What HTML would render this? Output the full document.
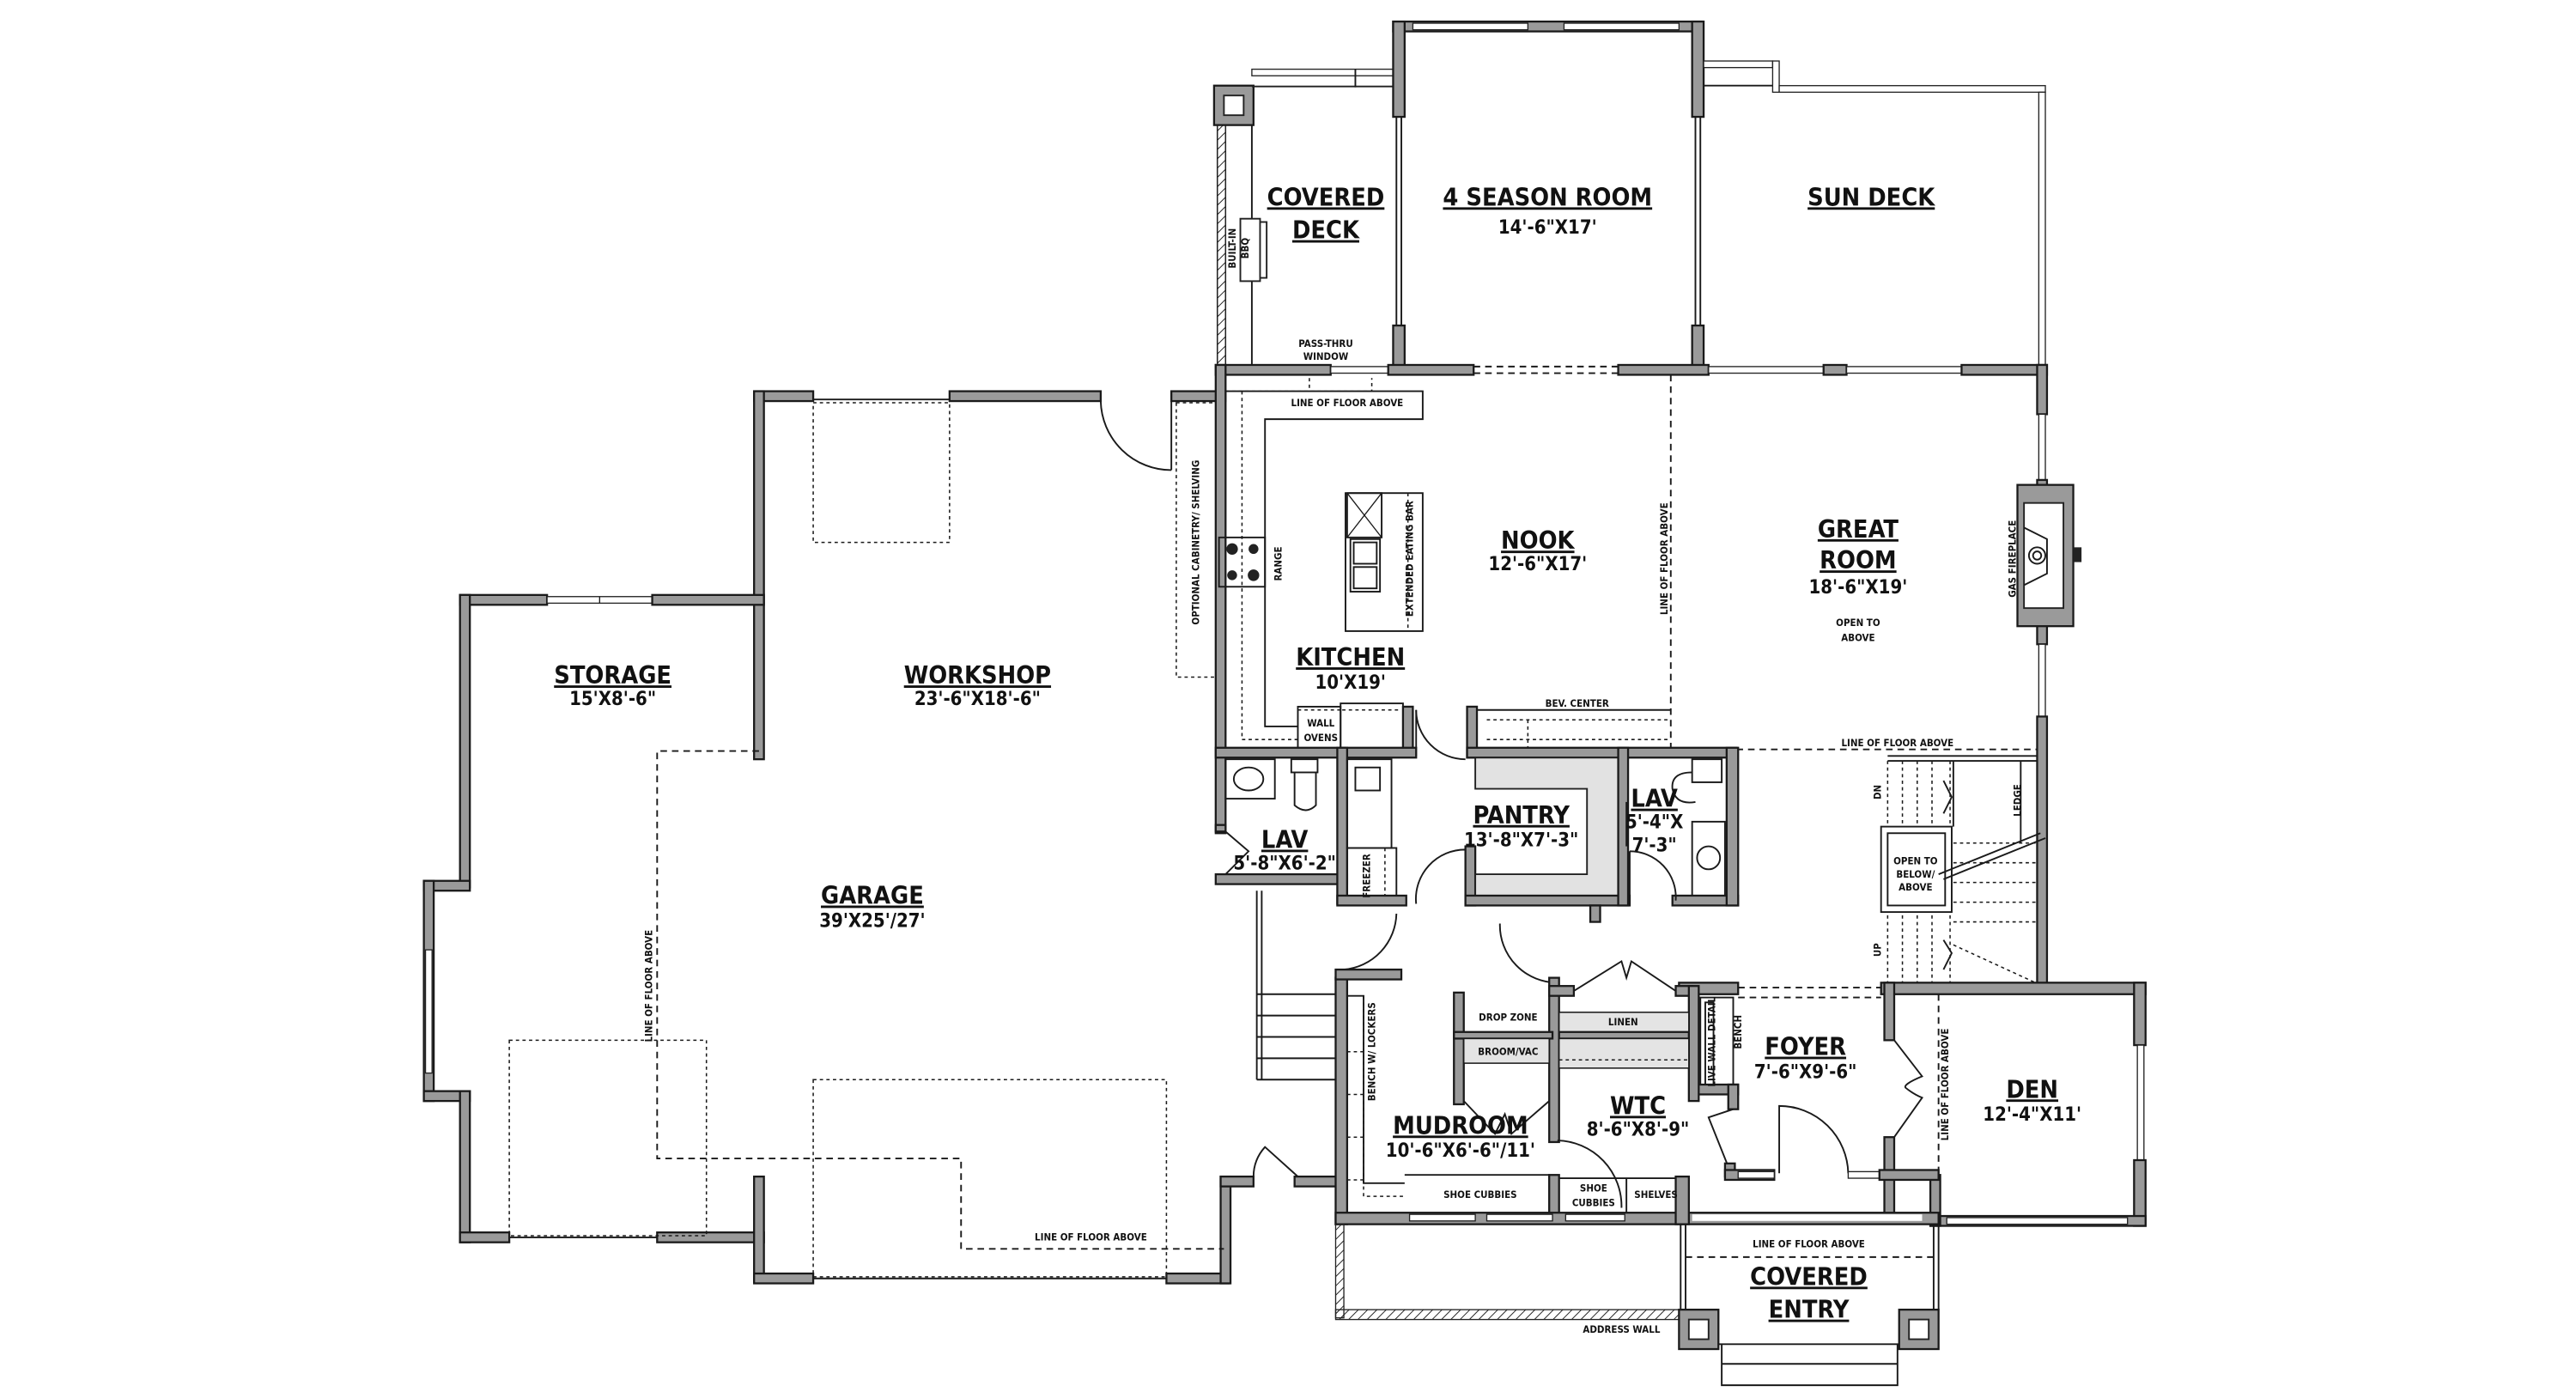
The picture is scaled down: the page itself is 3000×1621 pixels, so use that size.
<!DOCTYPE html>
<html><head><meta charset="utf-8"><style>
html,body{margin:0;padding:0;background:#fff}
svg{display:block}
.w{fill:#9a9a9a;stroke:#1a1a1a;stroke-width:1.2}
.l{fill:none;stroke:#1a1a1a;stroke-width:1}
.lt{fill:none;stroke:#1a1a1a;stroke-width:.7}
.d{fill:none;stroke:#1a1a1a;stroke-width:1;stroke-dasharray:4 3}
.ds{fill:none;stroke:#1a1a1a;stroke-width:.8;stroke-dasharray:2 2}
.g{fill:#e4e4e4;stroke:#1a1a1a;stroke-width:.8}
text{font-family:"DejaVu Sans Condensed","Liberation Sans Narrow","Liberation Sans",sans-serif;font-stretch:condensed;font-weight:bold;fill:#111;text-anchor:middle}
.t{font-size:15px;text-decoration:underline}
.m{font-size:11.5px}
.s{font-size:6px}
</style></head><body>
<svg width="3000" height="1621" viewBox="0 0 1568 847" xmlns="http://www.w3.org/2000/svg">
<defs>
<pattern id="h" width="4" height="4" patternUnits="userSpaceOnUse" patternTransform="rotate(45)"><line x1="0" y1="0" x2="0" y2="4" stroke="#222" stroke-width="1"/></pattern>
</defs>

<!-- ================= GARAGE ================= -->
<rect class="w" x="459" y="238" width="36" height="6"/>
<line class="l" x1="495" y1="243" x2="578" y2="243"/>
<rect class="w" x="578" y="238" width="92" height="6"/>
<rect class="w" x="713" y="238" width="33" height="6"/>
<line class="l" x1="713" y1="244" x2="713" y2="286"/>
<path class="l" d="M670 244 A43 43 0 0 0 713 286"/>
<rect class="w" x="459" y="238" width="6" height="224"/>
<rect class="w" x="280" y="362" width="53" height="6"/>
<rect x="333" y="363" width="64" height="4" fill="#fff" stroke="#222" stroke-width=".7"/>
<line class="lt" x1="365" y1="363" x2="365" y2="367"/>
<rect class="w" x="397" y="362" width="68" height="6"/>
<rect class="w" x="280" y="362" width="6" height="178"/>
<rect class="w" x="258" y="536" width="28" height="6"/>
<rect class="w" x="258" y="536" width="6" height="134"/>
<rect x="259" y="578" width="4" height="75" fill="#fff" stroke="#222" stroke-width=".7"/>
<rect class="w" x="258" y="664" width="28" height="6"/>
<rect class="w" x="280" y="664" width="6" height="92"/>
<rect class="w" x="280" y="750" width="30" height="6"/>
<line class="l" x1="310" y1="753" x2="400" y2="753"/>
<rect class="w" x="400" y="750" width="65" height="6"/>
<rect class="w" x="459" y="716" width="6" height="64"/>
<rect class="w" x="459" y="775" width="36" height="6"/>
<line class="l" x1="495" y1="778" x2="710" y2="778"/>
<rect class="w" x="710" y="775" width="38" height="6"/>
<rect class="w" x="743" y="716" width="6" height="65"/>
<rect class="w" x="743" y="716" width="20" height="6"/>
<rect class="w" x="788" y="716" width="30" height="6"/>
<path class="l" d="M763 716 A27 27 0 0 1 770 698 L790 716"/>
<rect class="ds" x="495" y="245" width="83" height="85"/>
<rect class="ds" x="716" y="245" width="24" height="167"/>
<path class="d" d="M462 457 H400 V705 H585 V760 H745"/>
<rect class="ds" x="310" y="633" width="120" height="119"/>
<rect class="ds" x="495" y="657" width="215" height="120"/>
<line class="l" x1="765" y1="542" x2="765" y2="657"/>
<line class="l" x1="768" y1="542" x2="768" y2="657"/>
<g class="l"><line x1="765" y1="605" x2="813" y2="605"/><line x1="765" y1="618" x2="813" y2="618"/><line x1="765" y1="631" x2="813" y2="631"/><line x1="765" y1="644" x2="813" y2="644"/><line x1="765" y1="657" x2="813" y2="657"/></g>

<!-- ================= DECKS ================= -->
<rect x="741" y="75" width="5" height="147" fill="url(#h)" stroke="#222" stroke-width=".8"/>
<rect class="w" x="739" y="52" width="24" height="24"/>
<rect x="745" y="58" width="12" height="12" fill="#fff" stroke="#222"/>
<line class="l" x1="762" y1="76" x2="762" y2="222"/>
<rect x="762" y="42" width="86" height="4" fill="#fff" stroke="#222" stroke-width=".7"/>
<rect x="762" y="52" width="86" height="1" fill="#222"/>
<line class="l" x1="825" y1="42" x2="825" y2="53"/>
<rect x="755" y="133" width="12" height="38" fill="#fff" stroke="#222"/>
<rect x="767" y="135" width="4" height="34" fill="#fff" stroke="#222"/>
<rect class="w" x="848" y="13" width="188" height="6"/>
<g fill="#fff" stroke="#222" stroke-width=".7"><rect x="860" y="14" width="70" height="4"/><rect x="952" y="14" width="70" height="4"/></g>
<rect class="w" x="848" y="13" width="7" height="58"/>
<rect class="w" x="1030" y="13" width="7" height="58"/>
<rect class="w" x="848" y="198" width="7" height="28"/>
<rect class="w" x="1030" y="198" width="7" height="28"/>
<g class="l"><line x1="850" y1="71" x2="850" y2="198"/><line x1="853" y1="71" x2="853" y2="198"/><line x1="1032" y1="71" x2="1032" y2="198"/><line x1="1035" y1="71" x2="1035" y2="198"/></g>
<rect x="1037" y="37" width="42" height="4" fill="#fff" stroke="#222" stroke-width=".7"/>
<line class="l" x1="1037" y1="52" x2="1079" y2="52"/>
<rect x="1079" y="37" width="4" height="19" fill="#fff" stroke="#222" stroke-width=".7"/>
<rect x="1083" y="52" width="162" height="4" fill="#fff" stroke="#222" stroke-width=".7"/>
<rect x="1241" y="56" width="4" height="166" fill="#fff" stroke="#222" stroke-width=".7"/>

<!-- ================= MAIN HOUSE SHELL ================= -->
<rect class="w" x="740" y="222" width="70" height="6"/>
<rect x="810" y="223" width="35" height="4" fill="#fff" stroke="#222" stroke-width=".7"/>
<rect class="w" x="845" y="222" width="52" height="6"/>
<line class="d" x1="897" y1="223" x2="985" y2="223"/><line class="d" x1="897" y1="227" x2="985" y2="227"/>
<rect class="w" x="985" y="222" width="55" height="6"/>
<rect x="1040" y="223" width="70" height="4" fill="#fff" stroke="#222" stroke-width=".7"/>
<rect class="w" x="1110" y="222" width="14" height="6"/>
<rect x="1124" y="223" width="70" height="4" fill="#fff" stroke="#222" stroke-width=".7"/>
<rect class="w" x="1194" y="222" width="52" height="6"/>
<rect class="w" x="740" y="222" width="6" height="285"/>
<rect class="w" x="1240" y="222" width="6" height="30"/>
<rect x="1241" y="252" width="4" height="40" fill="#fff" stroke="#222" stroke-width=".7"/>
<rect class="w" x="1240" y="292" width="6" height="100"/>
<rect x="1241" y="392" width="4" height="44" fill="#fff" stroke="#222" stroke-width=".7"/>
<rect class="w" x="1240" y="436" width="6" height="168"/>
<rect class="w" x="1228" y="295" width="34" height="86"/>
<rect x="1232" y="306" width="24" height="64" fill="#fff" stroke="#222"/>
<path class="l" d="M1232 321 L1246 328 L1246 349 L1232 356"/>
<circle class="l" cx="1240" cy="338" r="5"/><circle class="l" cx="1240" cy="338" r="2.5"/>
<rect x="1262" y="333" width="5" height="9" fill="#222"/>

<!-- kitchen -->
<path class="l" d="M746 238 H866 V255 H770 V442 H790"/>
<path class="ds" d="M746 238 H835 V230 M797 230 V238"/>
<path class="ds" d="M756 238 V450 H790"/>
<rect class="l" x="819" y="300" width="47" height="84"/>
<line class="ds" x1="857" y1="300" x2="857" y2="384"/>
<rect class="l" x="820" y="300" width="21" height="27"/>
<path class="lt" d="M820 300 L841 327 M841 300 L820 327"/>
<rect class="l" x="822" y="328" width="18" height="32"/>
<rect class="l" x="824" y="330" width="14" height="13"/><rect class="l" x="824" y="345" width="14" height="13"/>
<rect class="l" x="742" y="327" width="28" height="30"/>
<g fill="#222"><circle cx="750" cy="334" r="3.5"/><circle cx="763" cy="334" r="3"/><circle cx="750" cy="350" r="3"/><circle cx="763" cy="350" r="3.5"/></g>
<rect class="l" x="790" y="430" width="26" height="26"/>
<line class="ds" x1="790" y1="432" x2="816" y2="432"/>
<rect class="l" x="816" y="428" width="38" height="28"/>
<line class="ds" x1="817" y1="432" x2="853" y2="432"/>
<rect class="w" x="854" y="430" width="6" height="30"/>
<line class="l" x1="862" y1="432" x2="862" y2="460"/>
<path class="l" d="M862 432 A30 30 0 0 0 892 462"/>
<rect class="w" x="893" y="430" width="6" height="31"/>
<path class="l" d="M899 432 H1017"/>
<path class="ds" d="M905 438 H1017 M905 450 H1017 M930 438 V456"/>
<line class="d" x1="1017" y1="228" x2="1017" y2="455"/>
<rect class="w" x="740" y="455" width="122" height="6"/>
<rect class="w" x="893" y="455" width="164" height="6"/>
<line class="d" x1="1057" y1="456" x2="1240" y2="456"/>
<rect class="w" x="740" y="502" width="6" height="4"/>
<path class="l" d="M746 506 L760 518 L746 532"/>
<rect class="w" x="740" y="532" width="80" height="6"/>
<rect class="l" x="746" y="462" width="30" height="24"/>
<ellipse class="l" cx="760" cy="474" rx="9" ry="7"/>
<rect class="l" x="786" y="462" width="16" height="8"/>
<path class="l" d="M788 470 V490 Q795 496 801 490 V470"/>
<rect class="w" x="814" y="455" width="6" height="95"/>
<rect class="l" x="820" y="462" width="27" height="54"/>
<rect class="l" x="825" y="467" width="15" height="14"/>
<rect class="l" x="820" y="516" width="30" height="31"/>
<line class="ds" x1="843" y1="516" x2="843" y2="547"/>
<rect class="w" x="814" y="545" width="42" height="6"/>
<path class="l" d="M862 550 A30 30 0 0 1 892 517 V550"/>
<rect class="w" x="892" y="515" width="6" height="36"/>
<path fill="#e2e2e2" stroke="#222" d="M898 461 H985 V547 H898 V532 H966 V480 H898 Z"/>
<rect class="w" x="892" y="545" width="100" height="6"/>
<rect class="w" x="985" y="455" width="6" height="96"/>
<rect class="w" x="1018" y="545" width="40" height="6"/>
<rect class="w" x="1051" y="455" width="7" height="96"/>
<path class="l" d="M992 518 A28 28 0 0 1 1020 548 M992 518 V548"/>
<rect class="l" x="1030" y="462" width="18" height="14"/>
<path class="l" d="M1030 470 Q1017 470 1018 480 Q1020 490 1032 488"/>
<rect class="l" x="1030" y="500" width="20" height="45"/>
<circle class="l" cx="1040" cy="522" r="7"/>
<line class="l" x1="990" y1="488" x2="990" y2="515"/>
<rect class="w" x="968" y="551" width="6" height="10"/>
<path class="l" d="M913 562 A35 35 0 0 0 948 598"/>
<path class="l" d="M850 556 A35 35 0 0 1 818 590"/>
<!-- ================= STAIRS ================= -->
<g class="ds"><line x1="1149" y1="463" x2="1149" y2="503"/><line x1="1158" y1="463" x2="1158" y2="503"/><line x1="1167" y1="463" x2="1167" y2="503"/><line x1="1176" y1="463" x2="1176" y2="503"/><line x1="1187" y1="463" x2="1187" y2="503"/>
<line x1="1149" y1="557" x2="1149" y2="598"/><line x1="1158" y1="557" x2="1158" y2="598"/><line x1="1167" y1="557" x2="1167" y2="598"/><line x1="1176" y1="557" x2="1176" y2="598"/><line x1="1187" y1="557" x2="1187" y2="598"/>
<line x1="1189" y1="513" x2="1239" y2="513"/><line x1="1189" y1="525" x2="1239" y2="525"/><line x1="1189" y1="537" x2="1239" y2="537"/><line x1="1189" y1="549" x2="1239" y2="549"/><line x1="1189" y1="561" x2="1239" y2="561"/><line x1="1189" y1="575" x2="1239" y2="598"/></g>
<path class="l" d="M1149 460 H1240 M1149 463 H1240 M1189 463 V503 M1230 463 V513"/>
<rect class="l" x="1145" y="503" width="43" height="52"/>
<rect class="l" x="1149" y="507" width="35" height="44"/>
<path class="l" d="M1183 475 L1188 485 L1183 495 M1183 572 L1188 580 L1183 590"/>
<path class="l" d="M1180 532 L1242 507 M1183 535 L1245 510"/>
<!-- ================= DEN ================= -->
<rect class="w" x="1145" y="598" width="161" height="7"/>
<rect class="w" x="1147" y="598" width="6" height="35"/>
<path class="l" d="M1153 633 L1170 655 Q1158 660 1160 662 Q1165 666 1170 668 L1153 692"/>
<rect class="w" x="1147" y="692" width="6" height="50"/>
<rect class="w" x="1299" y="598" width="7" height="38"/>
<rect x="1301" y="636" width="4" height="70" fill="#fff" stroke="#222" stroke-width=".7"/>
<rect class="w" x="1299" y="706" width="7" height="40"/>
<rect class="w" x="1175" y="740" width="131" height="6"/>
<rect x="1185" y="741" width="110" height="4" fill="#fff" stroke="#222" stroke-width=".7"/>
<rect class="w" x="1175" y="715" width="6" height="31"/>
<line class="d" x1="1180" y1="605" x2="1180" y2="715"/>
<!-- ================= FOYER / WTC / MUDROOM ================= -->
<line class="d" x1="1058" y1="601" x2="1145" y2="601"/>
<line class="d" x1="1058" y1="607" x2="1145" y2="607"/>
<rect class="w" x="1022" y="598" width="36" height="7"/>
<rect class="l" x="1035" y="607" width="20" height="56"/>
<rect class="l" x="1038" y="610" width="5" height="50"/>
<rect class="w" x="1030" y="660" width="28" height="6"/>
<rect class="w" x="1052" y="660" width="6" height="15"/>
<path class="l" d="M1055 675 L1040 680 L1052 710"/>
<rect class="w" x="1050" y="708" width="6" height="8"/>
<rect class="w" x="1050" y="712" width="30" height="6"/>
<rect x="1058" y="713" width="22" height="4" fill="#fff" stroke="#222" stroke-width=".7"/>
<path class="l" d="M1083 714 V673 A42 42 0 0 1 1125 714"/>
<rect x="1125" y="713" width="20" height="4" fill="#fff" stroke="#222" stroke-width=".7"/>
<rect class="w" x="1144" y="712" width="36" height="6"/>
<rect class="w" x="885" y="604" width="6" height="68"/>
<rect class="w" x="943" y="595" width="6" height="100"/>
<rect class="w" x="885" y="628" width="60" height="4"/>
<rect class="g" x="891" y="632" width="52" height="15"/>
<path class="l" d="M891 670 L910 690 L916 678 L920 690 L943 670"/>
<rect class="w" x="943" y="600" width="15" height="6"/>
<path class="l" d="M958 603 L987 585 L990 595 L993 585 L1020 603"/>
<rect class="w" x="1020" y="600" width="10" height="6"/>
<rect class="w" x="1028" y="600" width="6" height="70"/>
<rect class="g" x="949" y="616" width="79" height="12"/>
<rect class="w" x="949" y="628" width="79" height="4"/>
<rect class="g" x="949" y="632" width="79" height="18"/>
<line class="ds" x1="949" y1="645" x2="1028" y2="645"/>
<path class="l" d="M948 694 A40 40 0 0 1 987 735"/>
<rect class="w" x="813" y="595" width="7" height="150"/>
<rect class="w" x="813" y="590" width="40" height="6"/>
<path class="l" d="M820 606 H830 V720 H855 M855 715 H943 V740"/>
<path class="ds" d="M830 606 V728 H855 M820 640 H830 M820 666 H830 M820 692 H830 M820 718 H830"/>
<rect class="w" x="943" y="715" width="6" height="28"/>
<path class="l" d="M949 717 H1028 V740 M990 717 V740"/>
<rect class="w" x="813" y="738" width="367" height="7"/>
<rect x="858" y="739" width="40" height="4" fill="#fff" stroke="#222" stroke-width=".7"/>
<rect x="905" y="739" width="40" height="4" fill="#fff" stroke="#222" stroke-width=".7"/>
<rect x="953" y="739" width="36" height="4" fill="#fff" stroke="#222" stroke-width=".7"/>
<rect x="1030" y="739" width="140" height="4" fill="#fff"/>
<rect class="w" x="1020" y="716" width="8" height="29"/>
<rect x="813" y="745" width="5" height="57" fill="url(#h)" stroke="#222" stroke-width=".7"/>
<rect x="813" y="797" width="210" height="6" fill="url(#h)" stroke="#222" stroke-width=".7"/>
<line class="l" x1="1023" y1="745" x2="1023" y2="797"/><line class="l" x1="1026" y1="745" x2="1026" y2="797"/>
<line class="l" x1="1177" y1="745" x2="1177" y2="797"/><line class="l" x1="1180" y1="745" x2="1180" y2="797"/>
<line class="d" x1="1026" y1="765" x2="1177" y2="765"/>
<rect class="w" x="1022" y="797" width="24" height="24"/>
<rect x="1028" y="803" width="12" height="12" fill="#fff" stroke="#222"/>
<rect class="w" x="1156" y="797" width="24" height="24"/>
<rect x="1162" y="803" width="12" height="12" fill="#fff" stroke="#222"/>
<path class="l" d="M1046 818 H1156 M1048 818 V843 H1155 V818 M1048 830 H1155"/>

<!-- ================= LABELS ================= -->
<text class="t" x="807" y="125">COVERED</text>
<text class="t" x="807" y="145">DECK</text>
<text class="t" x="942" y="125">4 SEASON ROOM</text>
<text class="m" x="942" y="142">14'-6"X17'</text>
<text class="t" x="1139" y="125">SUN DECK</text>
<text class="t" x="936" y="334">NOOK</text>
<text class="m" x="936" y="347">12'-6"X17'</text>
<text class="t" x="1131" y="327">GREAT</text>
<text class="t" x="1131" y="346">ROOM</text>
<text class="m" x="1131" y="361">18'-6"X19'</text>
<text class="s" x="1131" y="381">OPEN TO</text>
<text class="s" x="1131" y="390">ABOVE</text>
<text class="t" x="822" y="405">KITCHEN</text>
<text class="m" x="822" y="419">10'X19'</text>
<text class="t" x="373" y="416">STORAGE</text>
<text class="m" x="373" y="429">15'X8'-6"</text>
<text class="t" x="595" y="416">WORKSHOP</text>
<text class="m" x="595" y="429">23'-6"X18'-6"</text>
<text class="t" x="531" y="550">GARAGE</text>
<text class="m" x="531" y="564">39'X25'/27'</text>
<text class="t" x="782" y="516">LAV</text>
<text class="m" x="782" y="529">5'-8"X6'-2"</text>
<text class="t" x="926" y="501">PANTRY</text>
<text class="m" x="926" y="515">13'-8"X7'-3"</text>
<text class="t" x="1007" y="491">LAV</text>
<text class="m" x="1007" y="504">5'-4"X</text>
<text class="m" x="1007" y="518">7'-3"</text>
<text class="t" x="1099" y="642">FOYER</text>
<text class="m" x="1099" y="656">7'-6"X9'-6"</text>
<text class="t" x="1237" y="668">DEN</text>
<text class="m" x="1237" y="682">12'-4"X11'</text>
<text class="t" x="997" y="678">WTC</text>
<text class="m" x="997" y="691">8'-6"X8'-9"</text>
<text class="t" x="889" y="690">MUDROOM</text>
<text class="m" x="889" y="704">10'-6"X6'-6"/11'</text>
<text class="t" x="1101" y="782">COVERED</text>
<text class="t" x="1101" y="802">ENTRY</text>

<text class="s" x="918" y="621">DROP ZONE</text>
<text class="s" x="988" y="624">LINEN</text>
<text class="s" x="918" y="642">BROOM/VAC</text>
<text class="s" x="901" y="729">SHOE CUBBIES</text>
<text class="s" x="970" y="725">SHOE</text>
<text class="s" x="970" y="734">CUBBIES</text>
<text class="s" x="1008" y="729">SHELVES</text>
<text class="s" x="1101" y="759">LINE OF FLOOR ABOVE</text>
<text class="s" x="987" y="811">ADDRESS WALL</text>
<text class="s" x="820" y="247">LINE OF FLOOR ABOVE</text>
<text class="s" x="807" y="211">PASS-THRU</text>
<text class="s" x="807" y="219">WINDOW</text>
<text class="s" x="960" y="430">BEV. CENTER</text>
<text class="s" x="804" y="442">WALL</text>
<text class="s" x="804" y="451">OVENS</text>
<text class="s" x="1155" y="454">LINE OF FLOOR ABOVE</text>
<text class="s" x="664" y="755">LINE OF FLOOR ABOVE</text>
<text class="s" x="1166" y="526">OPEN TO</text>
<text class="s" x="1166" y="534">BELOW/</text>
<text class="s" x="1166" y="542">ABOVE</text>
<text class="s" transform="translate(837,640) rotate(-90)">BENCH W/ LOCKERS</text>
<text class="s" transform="translate(1044,634) rotate(-90)">LIVE WALL DETAIL</text>
<text class="s" transform="translate(1060,628) rotate(-90)">BENCH</text>
<text class="s" transform="translate(1186,660) rotate(-90)">LINE OF FLOOR ABOVE</text>
<text class="s" transform="translate(834,533) rotate(-90)">FREEZER</text>
<text class="s" transform="translate(730,330) rotate(-90)">OPTIONAL CABINETRY/ SHELVING</text>
<text class="s" transform="translate(780,343) rotate(-90)">RANGE</text>
<text class="s" transform="translate(860,340) rotate(-90)">EXTENDED EATING BAR</text>
<text class="s" transform="translate(1015,340) rotate(-90)">LINE OF FLOOR ABOVE</text>
<text class="s" transform="translate(1227,340) rotate(-90)">GAS FIREPLACE</text>
<text class="s" transform="translate(752,151) rotate(-90)">BUILT-IN</text>
<text class="s" transform="translate(760,151) rotate(-90)">BBQ</text>
<text class="s" transform="translate(1145,482) rotate(-90)">DN</text>
<text class="s" transform="translate(1145,578) rotate(-90)">UP</text>
<text class="s" transform="translate(1230,487) rotate(-90)">LEDGE</text>
<text class="s" transform="translate(397,600) rotate(-90)">LINE OF FLOOR ABOVE</text>
</svg>
</body></html>
